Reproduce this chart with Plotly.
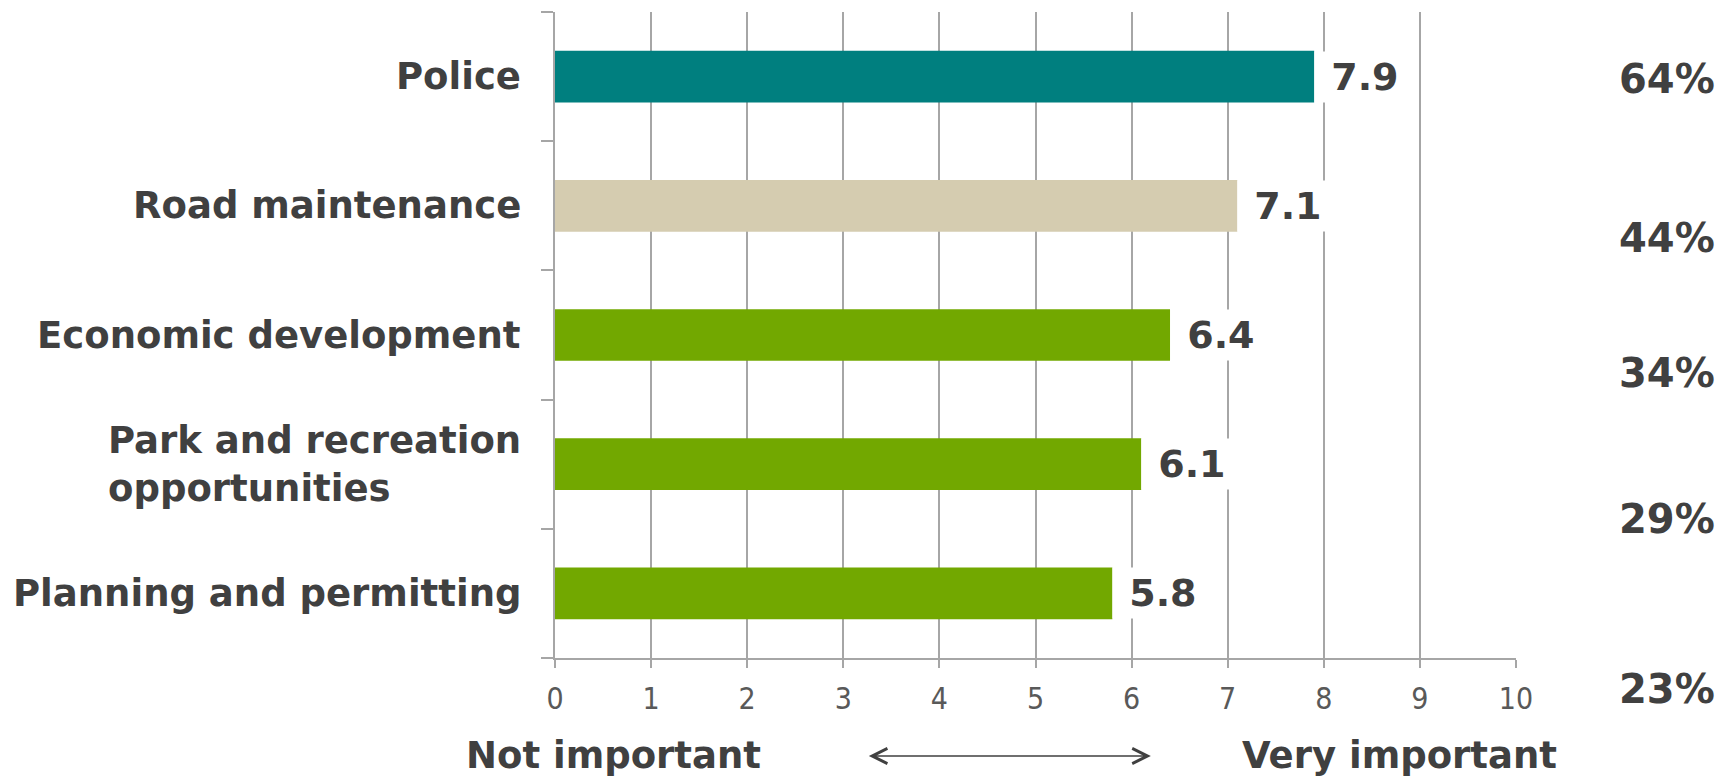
import plotly.graph_objects as go

categories = ["Police", "Road maintenance", "Economic development",
              "Park and recreation<br>opportunities", "Planning and permitting"]
scores = [7.9, 7.1, 6.4, 6.1, 5.8]
bar_colors = ["#007F7F", "#D5CCB0", "#72A800", "#72A800", "#72A800"]
pct_labels = ["64%", "44%", "34%", "29%", "23%"]
pct_y = [0.897, 0.650, 0.441, 0.215, -0.048]
x_ticks = [0, 1, 2, 3, 4, 5, 6, 7, 8, 9, 10]

TXT = "#404040"
GRID = "#A6A6A6"
FONT = "DejaVu Sans"

fig = go.Figure(go.Bar(
    y=categories, x=scores, orientation="h",
    marker=dict(color=bar_colors, line=dict(width=0)),
    hoverinfo="skip",
))

ann = []
for c in categories:
    ann.append(dict(x=0, xref="paper", y=c, yref="y", text=c, showarrow=False,
                    xanchor="right", yanchor="middle", align="left", xshift=-32,
                    font=dict(family=FONT, size=37, color=TXT, weight="bold")))
for c, v in zip(categories, scores):
    ann.append(dict(x=v, xref="x", y=c, yref="y", text=" " + f"{v:.1f}", showarrow=False,
                    xanchor="left", yanchor="middle", bgcolor="white", borderpad=3,
                    font=dict(family=FONT, size=38, color=TXT, weight="bold")))
for t, yp in zip(pct_labels, pct_y):
    ann.append(dict(x=1.209, xref="paper", y=yp, yref="paper", text=t, showarrow=False,
                    xanchor="right", yanchor="middle",
                    font=dict(family=FONT, size=40, color=TXT, weight="bold")))

ann.append(dict(x=0.0605, xref="paper", y=-0.1517, yref="paper", text="Not important",
                showarrow=False, xanchor="center", yanchor="middle",
                font=dict(family=FONT, size=37, color=TXT, weight="bold")))
ann.append(dict(x=0.879, xref="paper", y=-0.1517, yref="paper", text="Very important",
                showarrow=False, xanchor="center", yanchor="middle",
                font=dict(family=FONT, size=37, color=TXT, weight="bold")))
ann.append(dict(x=6.2, xref="x", y=-0.1517, yref="paper", ax=3.25, axref="x",
                ay=0, ayref="pixel", text="", showarrow=True,
                arrowhead=5, startarrowhead=5, arrowside="end+start",
                arrowwidth=1.5, arrowsize=2, startarrowsize=2, arrowcolor=TXT,
                standoff=0, startstandoff=0))

fig.update_layout(
    width=1723, height=771,
    margin=dict(l=547, r=215, t=4, b=121, pad=0),
    plot_bgcolor="white", paper_bgcolor="white",
    bargap=0.6, showlegend=False,
    annotations=ann,
    xaxis=dict(range=[0, 10], tickvals=x_ticks, showgrid=True, gridcolor=GRID, gridwidth=1.5,
               zeroline=False, showline=True, linecolor=GRID, linewidth=2,
               ticks="outside", ticklen=8, tickcolor=GRID, tickwidth=1.5,
               tickfont=dict(family="Liberation Sans Narrow, DejaVu Sans Condensed", size=30, color="#595959"),
               ticklabelstandoff=5, fixedrange=True),
    yaxis=dict(type="category", categoryorder="array", categoryarray=categories[::-1],
               showticklabels=False, showgrid=False, zeroline=False,
               showline=True, linecolor=GRID, linewidth=2,
               ticks="outside", tickson="boundaries", ticklen=12, tickcolor=GRID, tickwidth=1.5,
               fixedrange=True),
)

fig.write_html("out.html")
